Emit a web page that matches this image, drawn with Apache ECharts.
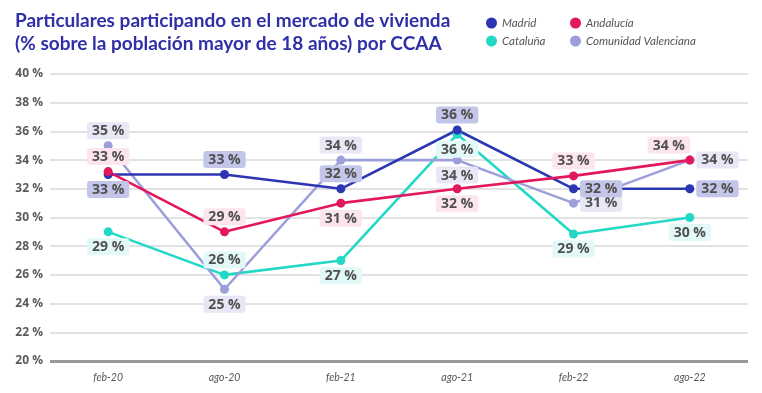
<!DOCTYPE html>
<html><head><meta charset="utf-8">
<script src="https://cdn.jsdelivr.net/npm/echarts@6/dist/echarts.min.js"></script>
<style>html,body{margin:0;padding:0;background:#fff}#c{width:762px;height:393px}</style>
</head><body><div id="c"></div>
<script>
const categories = ['feb-20','ago-20','feb-21','ago-21','feb-22','ago-22'];
const madrid = [33, 33, 32, 36.1, 32, 32];
const andalucia = [33.2, 29, 31, 32, 32.9, 34];
const cataluna = [29, 26, 27, 35.8, 28.85, 30];
const valenciana = [35, 25, 34, 34, 31, 34];
const madridLabels = ['33 %','33 %','32 %','36 %','32 %','32 %'];
const andaluciaLabels = ['33 %','29 %','31 %','32 %','33 %','34 %'];
const catalunaLabels = ['29 %','26 %','27 %','36 %','29 %','30 %'];
const valencianaLabels = ['35 %','25 %','34 %','34 %','31 %','34 %'];
const yTicks = [20,22,24,26,28,30,32,34,36,38,40];

const madridPos = ['bottom','top','top','top','right','right'];
const andaluciaPos = ['top','top','bottom','bottom','top','top'];
const catalunaPos = ['bottom','top','bottom','bottom','bottom','bottom'];
const valencianaPos = ['top','bottom','top','bottom','right','right'];

const FONT = '"Open Sans", "Noto Sans", sans-serif';
function mk(name, values, labels, pos, color, labelBg, offsets) {
  return {
    name, type: 'line', data: values.map((v, i) => ({
      value: v,
      label: { position: pos[i], offset: (offsets && offsets[i]) || [0, 0], formatter: labels[i] }
    })),
    symbol: 'circle', symbolSize: 9,
    lineStyle: { width: 2.6, color }, itemStyle: { color },
    label: { show: true, color: '#505050', fontFamily: FONT, fontWeight: 'bold', fontSize: 14,
      backgroundColor: labelBg, padding: [2, 5, 1, 5], borderRadius: 3, distance: 2 },
    emphasis: { disabled: true }
  };
}
const chart = echarts.init(document.getElementById('c'));
const legendBase = { icon: 'circle', itemWidth: 11, itemHeight: 11, itemGap: 10,
  textStyle: { fontFamily: '"Lato", sans-serif', fontStyle: 'italic', fontSize: 11.5, color: '#555' } };
chart.setOption({
  animation: false,
  title: { text: 'Particulares participando en el mercado de vivienda\n(% sobre la población mayor de 18 años) por CCAA',
    left: 10, top: 4, textStyle: { fontFamily: '"Lato", sans-serif', fontWeight: 'bold', fontSize: 19, color: '#2F2FA8', lineHeight: 23 } },
  legend: [
    Object.assign({}, legendBase, { data: ['Madrid'], left: 481, top: 12 }),
    Object.assign({}, legendBase, { data: ['Andalucía'], left: 565, top: 12 }),
    Object.assign({}, legendBase, { data: ['Cataluña'], left: 481, top: 30 }),
    Object.assign({}, legendBase, { data: ['Comunidad Valenciana'], left: 565, top: 30 })
  ],
  grid: { left: 50, right: 14, top: 74, bottom: 32 },
  xAxis: { type: 'category', data: categories, boundaryGap: true,
    axisLine: { show: false }, axisTick: { show: false },
    axisLabel: { fontFamily: '"Lato", sans-serif', fontStyle: 'italic', fontSize: 10.5, color: '#555', margin: 11 } },
  yAxis: { type: 'value', min: 20, max: 40, interval: 2,
    axisLine: { show: false }, axisTick: { show: false },
    axisLabel: { formatter: v => v + ' %', fontFamily: FONT, fontWeight: 'bold', fontSize: 12, color: '#5a5a5a', margin: 7 },
    splitLine: { lineStyle: { color: '#d8d8d8', width: 1.5 } } },
  series: [
    mk('Cataluña', cataluna, catalunaLabels, catalunaPos, '#22D8C6', '#E2F9F7'),
    mk('Comunidad Valenciana', valenciana, valencianaLabels, valencianaPos, '#9C9FD9', '#E7E7F6'),
    mk('Madrid', madrid, madridLabels, madridPos, '#2C36B2', '#C3C5E9'),
    mk('Andalucía', andalucia, andaluciaLabels, andaluciaPos, '#E3175B', '#FCE5EC', [null,null,null,null,null,[-21,0]]),
    { type: 'line', data: [], markLine: { silent: true, symbol: 'none', label: { show: false },
      lineStyle: { color: '#999', width: 3, type: 'solid' }, data: [{ yAxis: 20 }] } }
  ]
});
</script></body></html>
